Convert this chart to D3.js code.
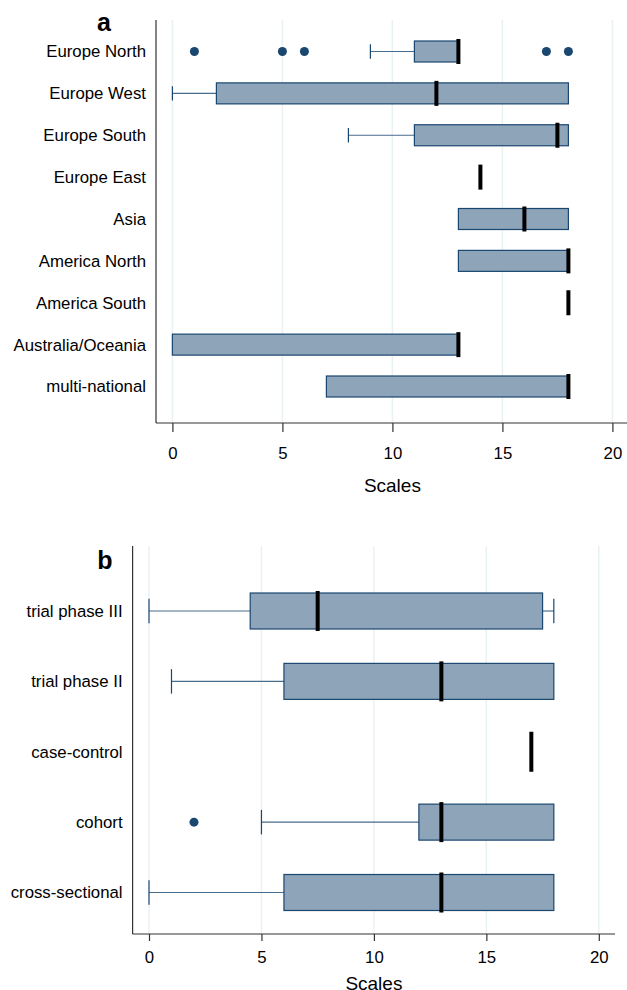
<!DOCTYPE html>
<html>
<head>
<meta charset="utf-8">
<script src="https://cdn.jsdelivr.net/npm/d3@7"></script>
<style>
  body { margin: 0; background: #fff; }
  text { font-family: "Liberation Sans", Arial, sans-serif; fill: #000; }
</style>
</head>
<body>
<div class="chart"></div>
<script>
const WIDTH = 627;
const HEIGHT = 990;

const BOX_FILL = '#8ea4b9';
const BOX_LINE = '#1a476f';
const GRID = '#e9f1f4';

var xTicks = [0, 5, 10, 15, 20];

// panel a: region
var catsA = ['Europe North', 'Europe West', 'Europe South', 'Europe East', 'Asia',
    'America North', 'America South', 'Australia/Oceania', 'multi-national'];
var loA  = [9, 0, 8, 14, 13, 13, 18, 0, 7];
var q1A  = [11, 2, 11, 14, 13, 13, 18, 0, 7];
var medA = [13, 12, 17.5, 14, 16, 18, 18, 13, 18];
var q3A  = [13, 18, 18, 14, 18, 18, 18, 13, 18];
var hiA  = [13, 18, 18, 14, 18, 18, 18, 13, 18];
var outA = [[1, 5, 6, 17, 18], [], [], [], [], [], [], [], []];

// panel b: study design
var catsB = ['trial phase III', 'trial phase II', 'case-control', 'cohort', 'cross-sectional'];
var loB  = [0, 1, 17, 5, 0];
var q1B  = [4.5, 6, 17, 12, 6];
var medB = [7.5, 13, 17, 13, 13];
var q3B  = [17.5, 18, 17, 18, 18];
var hiB  = [18, 18, 17, 18, 18];
var outB = [[], [], [], [2], []];

var svg = d3.select('.chart').append('svg')
    .attr('width', WIDTH)
    .attr('height', HEIGHT);

function toRows(cats, lo, q1, med, q3, hi, out) {
    return cats.map(function (c, i) {
        return {cat: c, lo: lo[i], q1: q1[i], med: med[i], q3: q3[i], hi: hi[i], out: out[i]};
    });
}

function drawPanel(opt) {
    var rows = toRows(opt.cats, opt.lo, opt.q1, opt.med, opt.q3, opt.hi, opt.out);
    var x = d3.scaleLinear().domain([0, 20]).range(opt.xRange);
    var y = d3.scalePoint().domain(opt.cats).range(opt.yRange);
    var g = svg.append('g');
    var bh = opt.boxH;

    // grid
    g.selectAll('.grid').data(xTicks).enter().append('line')
        .attr('x1', function (d) { return x(d); })
        .attr('x2', function (d) { return x(d); })
        .attr('y1', opt.top)
        .attr('y2', opt.bottom)
        .attr('stroke', GRID)
        .attr('stroke-width', 1.5);

    // whiskers
    rows.forEach(function (r) {
        var cy = y(r.cat);
        if (r.lo < r.q1) {
            g.append('line').attr('x1', x(r.lo)).attr('x2', x(r.q1))
                .attr('y1', cy).attr('y2', cy)
                .attr('stroke', BOX_LINE).attr('stroke-opacity', 0.8).attr('stroke-width', 1.2);
            g.append('line').attr('x1', x(r.lo)).attr('x2', x(r.lo))
                .attr('y1', cy - bh * 0.34).attr('y2', cy + bh * 0.34)
                .attr('stroke', BOX_LINE).attr('stroke-width', 1.2);
        }
        if (r.hi > r.q3) {
            g.append('line').attr('x1', x(r.q3)).attr('x2', x(r.hi))
                .attr('y1', cy).attr('y2', cy)
                .attr('stroke', BOX_LINE).attr('stroke-opacity', 0.8).attr('stroke-width', 1.2);
            g.append('line').attr('x1', x(r.hi)).attr('x2', x(r.hi))
                .attr('y1', cy - bh * 0.34).attr('y2', cy + bh * 0.34)
                .attr('stroke', BOX_LINE).attr('stroke-width', 1.2);
        }
    });

    // boxes
    g.selectAll('.box').data(rows.filter(function (r) { return r.q3 > r.q1; }))
        .enter().append('rect')
        .attr('x', function (d) { return x(d.q1); })
        .attr('width', function (d) { return x(d.q3) - x(d.q1); })
        .attr('y', function (d) { return y(d.cat) - bh / 2; })
        .attr('height', bh)
        .attr('fill', BOX_FILL)
        .attr('stroke', BOX_LINE)
        .attr('stroke-width', 1.2);

    // medians
    g.selectAll('.med').data(rows).enter().append('line')
        .attr('x1', function (d) { return x(d.med); })
        .attr('x2', function (d) { return x(d.med); })
        .attr('y1', function (d) { return y(d.cat) - bh / 2 - 2; })
        .attr('y2', function (d) { return y(d.cat) + bh / 2 + 2; })
        .attr('stroke', '#000')
        .attr('stroke-width', 4);

    // outliers
    rows.forEach(function (r) {
        g.selectAll(null).data(r.out).enter().append('circle')
            .attr('cx', function (d) { return x(d); })
            .attr('cy', y(r.cat))
            .attr('r', opt.dotR)
            .attr('fill', BOX_LINE);
    });

    // y axis
    g.append('line').attr('x1', opt.axisX).attr('x2', opt.axisX)
        .attr('y1', opt.top).attr('y2', opt.bottom)
        .attr('stroke', '#333').attr('stroke-width', 1.2);
    g.selectAll('.lab').data(opt.cats).enter().append('text')
        .attr('x', opt.axisX - 10)
        .attr('y', function (d) { return y(d); })
        .attr('dy', '0.35em')
        .attr('text-anchor', 'end')
        .style('font-size', '16.8px')
        .text(function (d) { return d; });

    // x axis
    var xAxis = d3.axisBottom(x).tickValues(xTicks).tickSize(opt.tickSize)
        .tickSizeOuter(0).tickPadding(opt.tickPad);
    var xg = g.append('g').attr('transform', 'translate(0,' + opt.bottom + ')').call(xAxis);
    xg.select('.domain').remove();
    xg.selectAll('.tick line').attr('stroke', '#333').attr('stroke-width', 1.2);
    xg.selectAll('.tick text').style('font-size', '16.8px')
        .style('font-family', '"Liberation Sans", Arial, sans-serif').attr('fill', '#000');
    g.append('line').attr('x1', opt.axisX).attr('x2', opt.xEnd)
        .attr('y1', opt.bottom).attr('y2', opt.bottom)
        .attr('stroke', '#333').attr('stroke-width', 1.2);

    g.append('text')
        .attr('x', (x(0) + x(20)) / 2)
        .attr('y', opt.titleY)
        .attr('text-anchor', 'middle')
        .style('font-size', '19px')
        .text('Scales');

    g.append('text')
        .attr('x', opt.letterX)
        .attr('y', opt.letterY)
        .attr('text-anchor', 'middle')
        .style('font-size', '25px')
        .style('font-weight', 'bold')
        .text(opt.letter);
}

drawPanel({
    cats: catsA, lo: loA, q1: q1A, med: medA, q3: q3A, hi: hiA, out: outA,
    xRange: [172.4, 612.4], yRange: [51.5, 386.5],
    top: 20, bottom: 423, axisX: 156, xEnd: 627,
    tickSize: 9, tickPad: 15, titleY: 492,
    boxH: 21, dotR: 4.5, letter: 'a', letterX: 104, letterY: 31
});

drawPanel({
    cats: catsB, lo: loB, q1: q1B, med: medB, q3: q3B, hi: hiB, out: outB,
    xRange: [149, 598.8], yRange: [611, 892.5],
    top: 546, bottom: 934, axisX: 132.6, xEnd: 615,
    tickSize: 7, tickPad: 10, titleY: 989.5,
    boxH: 36, dotR: 4.5, letter: 'b', letterX: 105, letterY: 569
});
</script>
</body>
</html>
